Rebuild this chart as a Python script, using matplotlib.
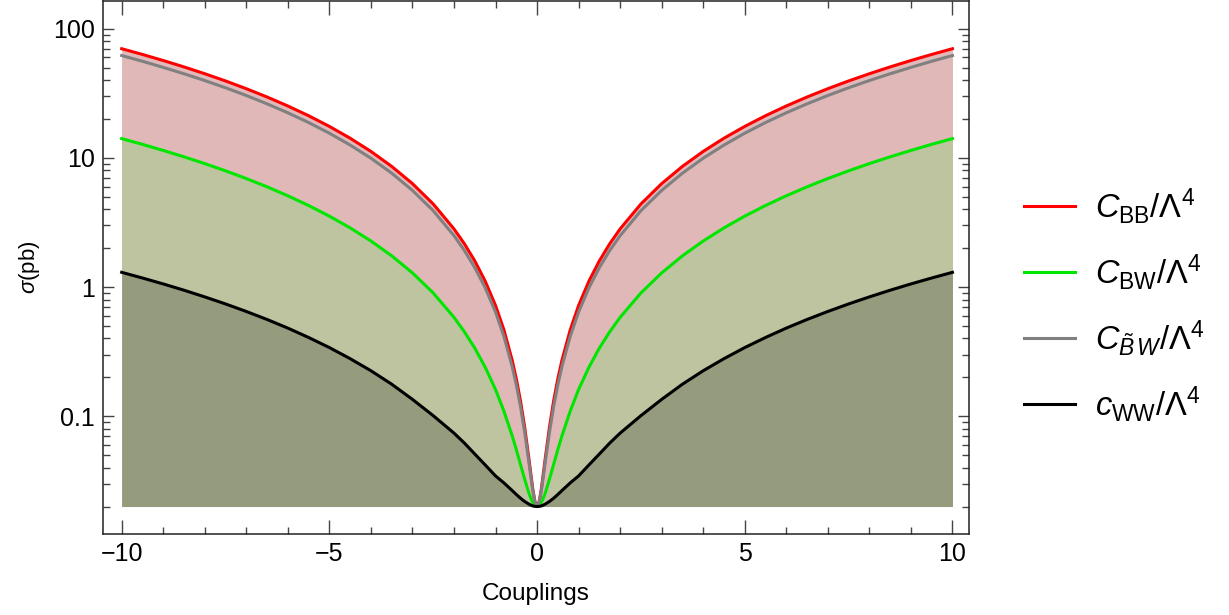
import matplotlib
matplotlib.use("Agg")
import matplotlib.pyplot as plt
from matplotlib.ticker import FixedLocator, MultipleLocator, NullFormatter

plt.rcParams['font.family'] = ['Liberation Sans', 'DejaVu Sans']
plt.rcParams['mathtext.fontset'] = 'custom'
plt.rcParams['mathtext.rm'] = 'Liberation Sans'
plt.rcParams['mathtext.it'] = 'Liberation Sans:italic'

# couplings (right half; the curves are symmetric)
c_half = [0, 0.05, 0.1, 0.15, 0.2, 0.3, 0.4, 0.5, 0.6, 0.8, 1.0, 1.25, 1.5, 1.75, 2, 2.5, 3, 3.5,
          4, 4.5, 5, 5.5, 6, 6.5, 7, 7.5, 8, 8.5, 9, 9.5, 10]
# cross sections in pb
s_bb = [0.02, 0.0218, 0.027, 0.0358, 0.048, 0.083, 0.132, 0.195, 0.272, 0.468, 0.72, 1.114, 1.595,
        2.164, 2.82, 4.395, 6.32, 8.595, 11.22, 14.2, 17.52, 21.2, 25.22, 29.6, 34.32, 39.4, 44.82,
        50.6, 56.72, 63.2, 70.0]
s_bw = [0.02, 0.02035, 0.0214, 0.0232, 0.0256, 0.0327, 0.0425, 0.0552, 0.0707, 0.110, 0.161, 0.240,
        0.337, 0.451, 0.583, 0.90, 1.287, 1.745, 2.273, 2.871, 3.54, 4.279, 5.089, 5.969, 6.919, 7.94,
        9.03, 10.19, 11.42, 12.73, 14.1]
s_btw = [0.02, 0.0216, 0.0262, 0.034, 0.0448, 0.0758, 0.119, 0.175, 0.243, 0.417, 0.64, 0.989, 1.415,
         1.92, 2.5, 3.9, 5.6, 7.615, 9.94, 12.57, 15.52, 18.78, 22.34, 26.2, 30.4, 34.9, 39.7, 44.8,
         50.2, 55.97, 62.0]
s_ww = [0.02, 0.02005, 0.0202, 0.0205, 0.0209, 0.0219, 0.0232, 0.0248, 0.0266, 0.0305, 0.0345, 0.042,
        0.051, 0.062, 0.074, 0.101, 0.135, 0.177, 0.225, 0.279, 0.34, 0.407, 0.481, 0.561, 0.647, 0.74,
        0.839, 0.945, 1.057, 1.175, 1.30]
base = 0.02

labels = [r'$C_{\mathrm{BB}}/\Lambda^4$', r'$C_{\mathrm{BW}}/\Lambda^4$',
          r'$C_{\tilde{B}\,W}/\Lambda^4$', r'$c_{\mathrm{WW}}/\Lambda^4$']


def full(vals):
    return vals[:0:-1] + vals


x = [-v for v in c_half[:0:-1]] + c_half

fig = plt.figure(figsize=(12.29, 6.15), dpi=100)
ax = fig.add_axes([0.0838, 0.1317, 0.7047, 0.8673])

ax.fill_between(x, base, full(s_bb), color='#e2b9ba', lw=0, zorder=1)
ax.fill_between(x, base, full(s_btw), color='#e0b8b8', lw=0, zorder=1)
ax.fill_between(x, base, full(s_bw), color='#bec49f', lw=0, zorder=2)
ax.fill_between(x, base, full(s_ww), color='#959b7d', lw=0, zorder=3)

ax.plot(x, full(s_bb), color='#ff0000', lw=2.2, label=labels[0], zorder=5)
ax.plot(x, full(s_bw), color='#00e600', lw=2.2, label=labels[1], zorder=5)
ax.plot(x, full(s_btw), color='#808080', lw=2.2, label=labels[2], zorder=5)
ax.plot(x, full(s_ww), color='#000000', lw=2.2, label=labels[3], zorder=6)

ax.set_yscale('log')
ax.set_xlim(-10.45, 10.4)
ax.set_ylim(0.01225, 165)

ax.xaxis.set_minor_locator(MultipleLocator(1))
ax.set_xticks([-10, -5, 0, 5, 10])
ax.set_xticklabels(['\u221210', '\u22125', '0', '5', '10'])
ax.set_yticks([0.1, 1, 10, 100])
ax.set_yticklabels(['0.1', '1', '10', '100'])
ax.yaxis.set_minor_locator(FixedLocator([m * 10.0 ** e for e in range(-2, 3) for m in range(2, 10)]))
ax.yaxis.set_minor_formatter(NullFormatter())

ax.tick_params(which='both', direction='in', top=True, right=True, color='#444444', labelsize=18, pad=6)
ax.tick_params(which='major', length=8, width=1)
ax.tick_params(which='minor', length=5, width=1)
ax.tick_params(axis='x', which='major', length=10)
for s in ax.spines.values():
    s.set_linewidth(1.1)
    s.set_color('#222222')

ax.set_xlabel('Couplings', fontsize=17.5, labelpad=12)
ax.set_ylabel(r'$\sigma$(pb)', fontsize=16, labelpad=8)

leg = ax.legend(loc='center left', bbox_to_anchor=(1.03, 0.43), frameon=False, fontsize=23.5,
                handlelength=1.55, handletextpad=0.62, labelspacing=0.8)

fig.savefig('out.png', dpi=100)
